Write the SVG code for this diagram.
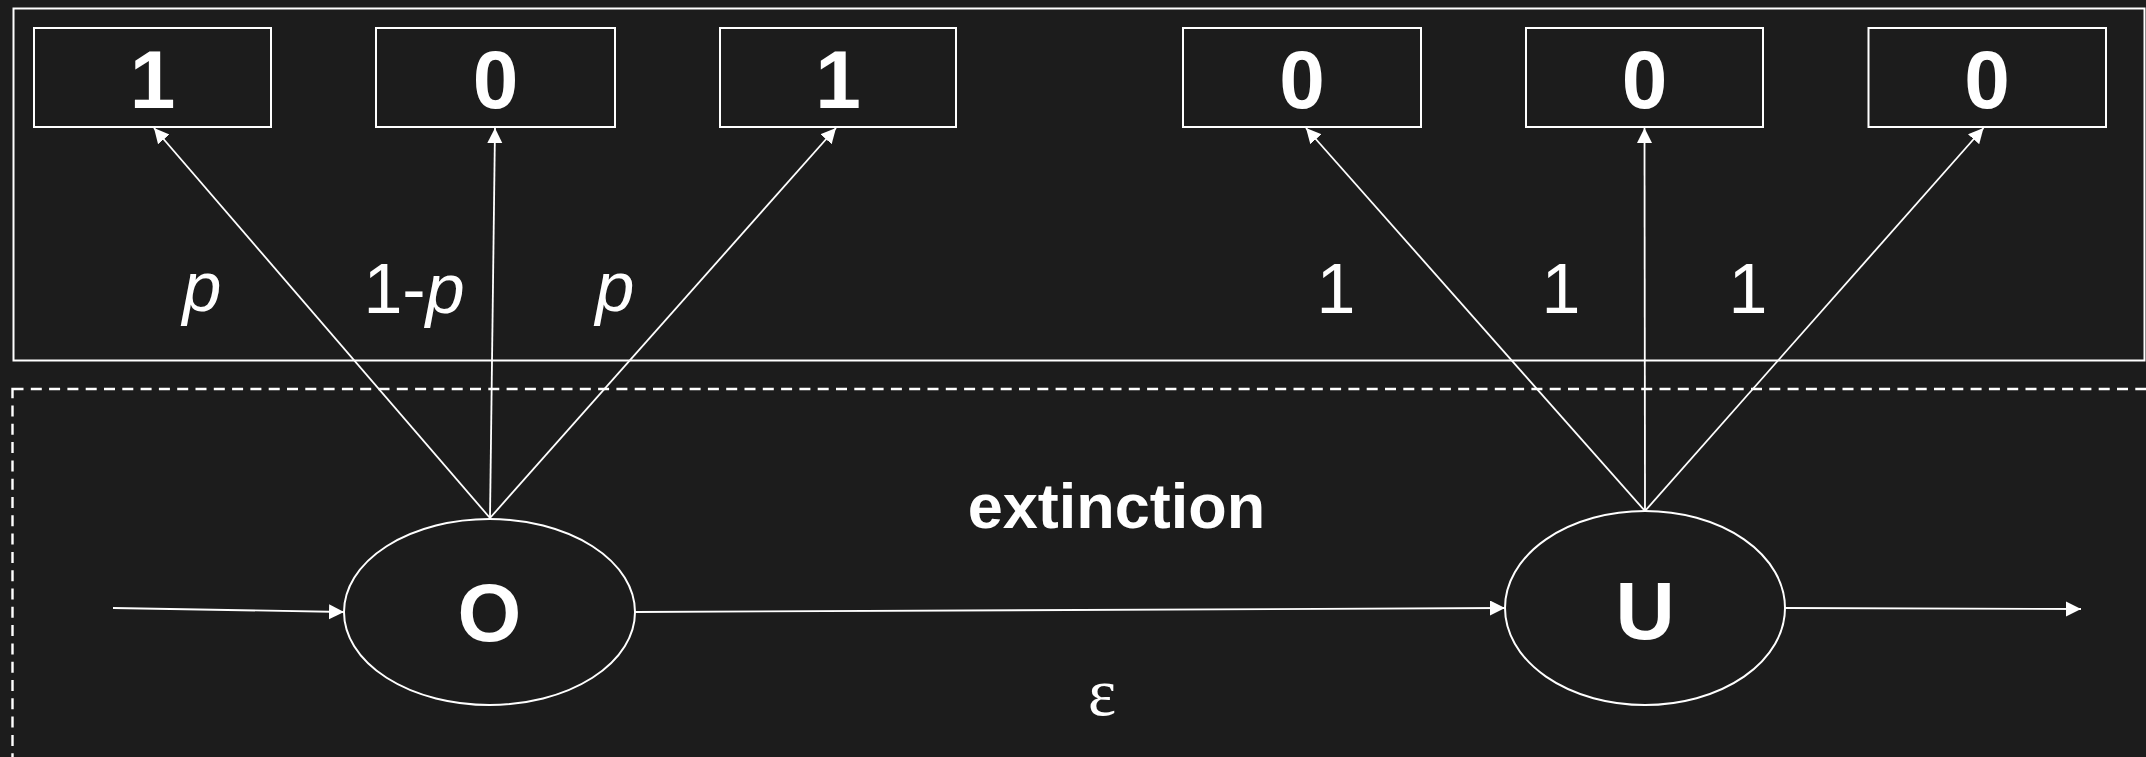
<svg xmlns="http://www.w3.org/2000/svg" width="2146" height="757" viewBox="0 0 2146 757">
<style>
.bg{fill:#1c1c1c}
.frame{fill:none;stroke:#ffffff;stroke-width:2}
.dash{fill:none;stroke:#ffffff;stroke-width:2.4;stroke-dasharray:11 7.3}
.box{fill:#1c1c1c;stroke:#ffffff;stroke-width:2}
.num{font-family:"Liberation Sans",Arial,sans-serif;font-weight:bold;font-size:82px;fill:#ffffff;text-anchor:middle}
.lbl{font-family:"Liberation Sans",Arial,sans-serif;font-size:70px;fill:#ffffff;text-anchor:middle}
.it{font-style:italic}
.ext{font-family:"Liberation Sans",Arial,sans-serif;font-weight:bold;font-size:63px;fill:#ffffff;text-anchor:middle}
.eps{font-family:"Liberation Serif","Times New Roman",serif;font-size:67px;fill:#ffffff;text-anchor:middle}
.conn line{stroke:#ffffff;stroke-width:1.8;marker-end:url(#arr)}
</style>
<defs>
<marker id="arr" markerUnits="userSpaceOnUse" markerWidth="17" markerHeight="16" refX="15" refY="7.5" orient="auto">
<path d="M0,0 L15,7.5 L0,15 z" fill="#ffffff"/>
</marker>
</defs>
<rect class="bg" x="0" y="0" width="2146" height="757"/>
<rect id="outcomes-frame" class="frame" x="13.5" y="8.5" width="2131" height="352"/>
<rect id="process-frame" class="dash" x="12.5" y="389" width="2150" height="380"/>

<g id="box1"><rect class="box" x="34" y="28" width="237" height="99"/><text class="num" x="152.5" y="108">1</text></g>
<g id="box2"><rect class="box" x="376" y="28" width="239" height="99"/><text class="num" x="495.5" y="108">0</text></g>
<g id="box3"><rect class="box" x="720" y="28" width="236" height="99"/><text class="num" x="838" y="108">1</text></g>
<g id="box4"><rect class="box" x="1183" y="28" width="238" height="99"/><text class="num" x="1302" y="108">0</text></g>
<g id="box5"><rect class="box" x="1526" y="28" width="237" height="99"/><text class="num" x="1644.5" y="108">0</text></g>
<g id="box6"><rect class="box" x="1868.5" y="28" width="237.5" height="99"/><text class="num" x="1987" y="108">0</text></g>

<g id="nodeO"><ellipse class="box" cx="489.5" cy="612" rx="145.5" ry="93"/><text class="num" x="489.5" y="641">O</text></g>
<g id="nodeU"><ellipse class="box" cx="1645" cy="608" rx="140" ry="97"/><text class="num" x="1645" y="639">U</text></g>

<g class="conn" id="connectors">
<line x1="113" y1="608" x2="344" y2="612"/>
<line x1="635" y1="612" x2="1505" y2="608"/>
<line x1="1785" y1="608" x2="2081" y2="609"/>
<line x1="490" y1="518" x2="154" y2="128"/>
<line x1="490" y1="518" x2="495" y2="128"/>
<line x1="490" y1="518" x2="836" y2="128"/>
<line x1="1645" y1="511" x2="1306" y2="128"/>
<line x1="1645" y1="511" x2="1644.5" y2="128"/>
<line x1="1645" y1="511" x2="1983.5" y2="128"/>
</g>

<g id="labels">
<text class="lbl it" x="202" y="311">p</text>
<text class="lbl" x="414" y="313">1-<tspan class="it">p</tspan></text>
<text class="lbl it" x="615" y="311">p</text>
<text class="lbl" x="1336" y="313">1</text>
<text class="lbl" x="1561" y="313">1</text>
<text class="lbl" x="1748" y="313">1</text>
<text class="ext" x="1116.5" y="528">extinction</text>
<text class="eps" x="1102" y="715">ε</text>
</g>
</svg>
